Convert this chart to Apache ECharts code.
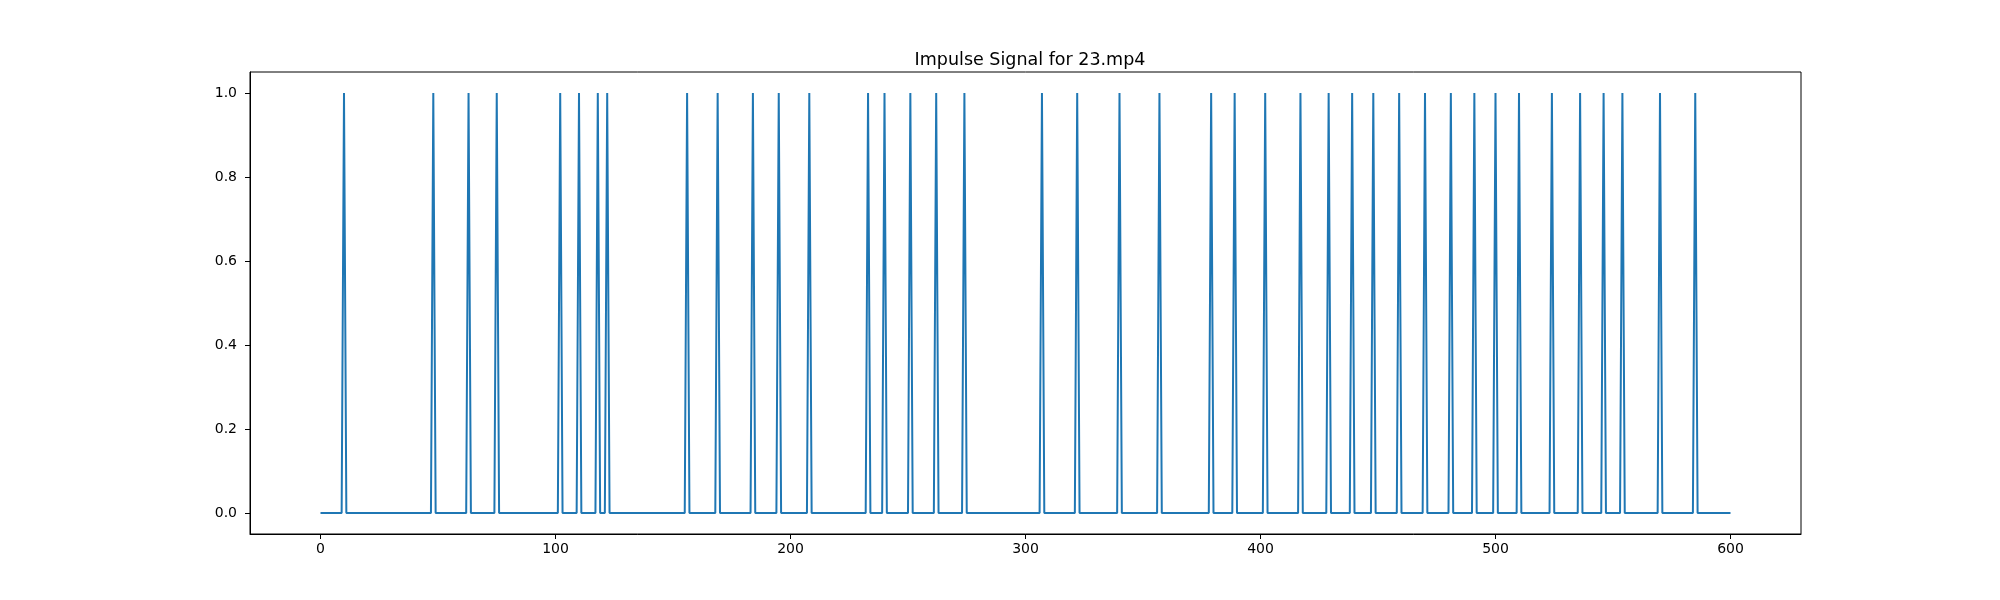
<!DOCTYPE html>
<html>
<head>
<meta charset="utf-8">
<script src="https://cdn.jsdelivr.net/npm/echarts@6/dist/echarts.min.js"></script>
<style>
  html, body { margin: 0; padding: 0; background: #fff; }
  #chart { width: 2000px; height: 600px; }
</style>
</head>
<body>
<div id="chart"></div>
<script>
// frames where the impulse fires (value 1), all other frames are 0
const spikeFrames = [
  10, 48, 63, 75, 102, 110, 118, 122, 156, 169, 184, 195, 208,
  233, 240, 251, 262, 274, 307, 322, 340, 357, 379, 389, 402,
  417, 429, 439, 448, 459, 470, 481, 491, 500, 510, 524, 536,
  546, 554, 570, 585
];
const lastFrame = 600;
const xTicks = [0, 100, 200, 300, 400, 500, 600];
const yTicks = [0, 0.2, 0.4, 0.6, 0.8, 1.0];

const spikeSet = new Set(spikeFrames);
const signal = [];
for (let f = 0; f <= lastFrame; f++) {
  signal.push([f, spikeSet.has(f) ? 1 : 0]);
}

const chart = echarts.init(document.getElementById("chart"));
const font = "DejaVu Sans";

chart.setOption({
  animation: false,
  backgroundColor: "#fff",
  title: {
    text: "Impulse Signal for 23.mp4",
    left: 1025,
    top: 46,
    textAlign: "center",
    textStyle: { fontFamily: font, fontSize: 17.5, fontWeight: "normal", color: "#000" },
  },
  grid: {
    left: 250,
    right: 199,
    top: 72,
    bottom: 66,
    show: true,
    borderColor: "#000",
    borderWidth: 1,
  },
  xAxis: {
    type: "value",
    min: -30,
    max: 630,
    axisLine: { show: true, onZero: false, lineStyle: { color: "#000", width: 1 } },
    axisTick: { show: true, length: 5, customValues: xTicks, lineStyle: { color: "#000" } },
    axisLabel: {
      customValues: xTicks,
      margin: 8,
      fontFamily: font,
      fontSize: 14,
      color: "#000",
    },
    splitLine: { show: false },
  },
  yAxis: {
    type: "value",
    min: -0.05,
    max: 1.05,
    axisLine: { show: true, onZero: false, lineStyle: { color: "#000", width: 1 } },
    axisTick: { show: true, length: 5, customValues: yTicks, lineStyle: { color: "#000" } },
    axisLabel: {
      customValues: yTicks,
      margin: 13,
      fontFamily: font,
      fontSize: 14,
      color: "#000",
      formatter: (v) => v.toFixed(1),
    },
    splitLine: { show: false },
  },
  series: [
    {
      type: "line",
      data: signal,
      showSymbol: false,
      symbol: "none",
      lineStyle: { color: "#1f77b4", width: 2 },
    },
  ],
});
</script>
</body>
</html>
